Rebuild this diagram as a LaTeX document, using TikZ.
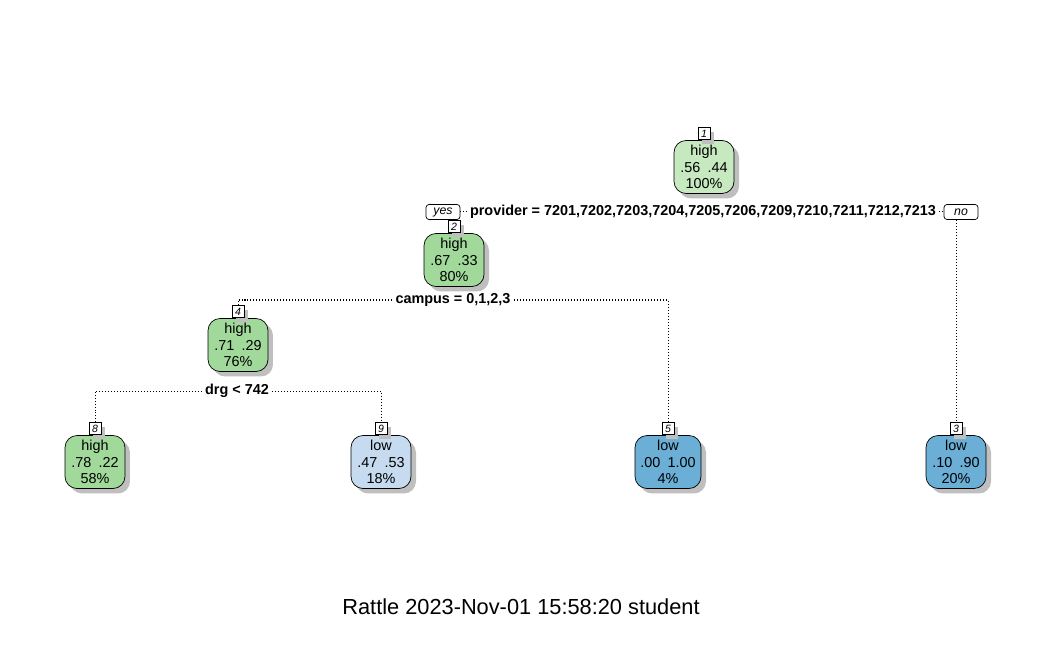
\documentclass[tikz,border=0pt]{standalone}
\usepackage{fontspec}
\setmainfont{Liberation Sans}
\usetikzlibrary{positioning}
\usetikzlibrary{shadows}
\usetikzlibrary{backgrounds}

\definecolor{palegreen}{RGB}{199,233,192}
\definecolor{leafgreen}{RGB}{161,217,155}
\definecolor{paleblue}{RGB}{198,219,239}
\definecolor{midblue}{RGB}{107,174,214}

\begin{document}
\begin{tikzpicture}[x=0.02cm, y=-0.02cm]
        % Define styles for boxes and links
        \tikzset{
            leaf/.style={draw, rounded corners=0.24cm, minimum width=1.2cm, minimum height=1.06cm, inner sep=0pt, align=center,
                font=\fontsize{8.2}{9.5}\selectfont,
                drop shadow={shadow xshift=0.1cm, shadow yshift=-0.1cm, fill=black!25, opacity=1}},
            numbox/.style={draw, fill=white, minimum size=0.24cm, inner sep=0pt, font=\fontsize{6}{6}\selectfont\itshape,
                drop shadow={shadow xshift=0.08cm, shadow yshift=-0.08cm, fill=black!25, opacity=1}},
            yesno/.style={draw, fill=white, rounded corners=0.06cm, minimum width=0.68cm, minimum height=0.3cm, inner sep=0pt,
                font=\fontsize{7}{8}\selectfont\itshape},
            splittext/.style={fill=white, inner xsep=0.06cm, inner ysep=1pt, font=\fontsize{8.2}{9}\selectfont\bfseries},
            link/.style={line width=0.57pt, dash pattern=on 0.57pt off 1.13pt}
        }
        \useasboundingbox (0,0) rectangle (1050,648);

        % Draw tree nodes
        \node[leaf, fill=palegreen] (n1) at (704,167) {high\\.56\enspace .44\\100\%};
        \node[numbox, above=0pt of n1] (k1) {1};
        \node[leaf, fill=leafgreen] (n2) at (454,260) {high\\.67\enspace .33\\80\%};
        \node[numbox, above=0pt of n2] (k2) {2};
        \node[leaf, fill=leafgreen] (n4) at (238,345) {high\\.71\enspace .29\\76\%};
        \node[numbox, above=0pt of n4] (k4) {4};
        \node[leaf, fill=leafgreen] (n8) at (95,462) {high\\.78\enspace .22\\58\%};
        \node[numbox, above=0pt of n8] (k8) {8};
        \node[leaf, fill=paleblue] (n9) at (381,462) {low\\.47\enspace .53\\18\%};
        \node[numbox, above=0pt of n9] (k9) {9};
        \node[leaf, fill=midblue, minimum width=1.32cm] (n5) at (668,462) {low\\.00\enspace 1.00\\4\%};
        \node[numbox, above=0pt of n5] (k5) {5};
        \node[leaf, fill=midblue] (n3) at (956,462) {low\\.10\enspace .90\\20\%};
        \node[numbox, above=0pt of n3] (k3) {3};

        % Split labels
        \node[yesno] (yes) at (443,212) {yes};
        \node[yesno] (no) at (961,212) {no};
        \node[splittext] (s1) at (703,212) {provider = 7201,7202,7203,7204,7205,7206,7209,7210,7211,7212,7213};
        \node[splittext] (s2) at (453,300) {campus = 0,1,2,3};
        \node[splittext] (s4) at (237,391) {drg < 742};

        \node[font=\fontsize{12.4}{14}\selectfont] (title) at (521,607) {Rattle 2023-Nov-01 15:58:20 student};

        % Draw links
        \begin{scope}[on background layer]
            \draw[link] (yes) -- (s1) -- (no);
            \draw[link] (no.south -| k3) -- (k3);
            \draw[link] (k4) |- (s2) -| (k5);
            \draw[link] (k8) |- (s4) -| (k9);
        \end{scope}
    \end{tikzpicture}
\end{document}
